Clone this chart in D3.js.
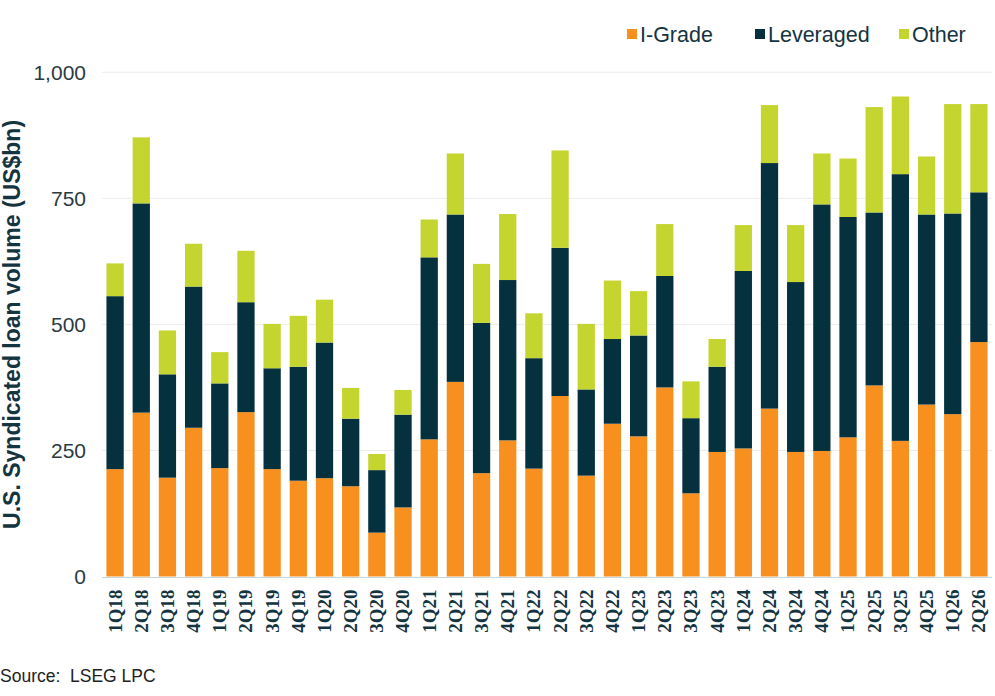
<!DOCTYPE html>
<html>
<head>
  <meta http-equiv="Content-Type" content="text/html; charset=UTF-8">
  <script src="https://d3js.org/d3.v7.min.js"></script>
  <style>
    body { margin:0; background:#fff; }
    svg { display:block; }
  </style>
</head>
<body>
  <svg width="995" height="696"></svg>
  <script>
    // quarters, 1Q18 .. 2Q26
    var quarters = ["1Q18","2Q18","3Q18","4Q18","1Q19","2Q19","3Q19","4Q19","1Q20","2Q20","3Q20","4Q20",
                    "1Q21","2Q21","3Q21","4Q21","1Q22","2Q22","3Q22","4Q22","1Q23","2Q23","3Q23","4Q23",
                    "1Q24","2Q24","3Q24","4Q24","1Q25","2Q25","3Q25","4Q25","1Q26","2Q26"];

    // US$bn
    var iGrade    = [213,325,196,295,215,326,213,190,195,179, 87,137,272,386,205,270,214,358,200,303,
                     278,375,165,247,254,333,247,249,276,379,269,341,322,465];
    var leveraged = [343,415,205,280,168,218,200,226,269,134,124,184,361,332,298,318,219,294,171,168,
                     200,221,149,169,352,487,337,489,437,343,529,377,398,297];
    var other     = [ 65,131, 87, 85, 62,102, 88,101, 85, 61, 32, 49, 75,121,117,131, 89,193,130,116,
                      88,103, 73, 55, 91,115,113,101,116,209,154,115,217,175];

    var seriesNames = ["I-Grade", "Leveraged", "Other"];
    var yTicks = [0, 250, 500, 750, 1000];

    var colors = { "I-Grade": "#f7901e", "Leveraged": "#05313e", "Other": "#c5d52f" };
    var textColor = "#14343f";

    var data = quarters.map(function(q, i) {
      return { q: q, "I-Grade": iGrade[i], "Leveraged": leveraged[i], "Other": other[i] };
    });

    // plot area (window.top is reserved, so no "top" here)
    var plotLeft = 102, plotRight = 992, plotTop = 72.3, plotBottom = 576.5;

    var svg = d3.select("svg");

    var x = d3.scaleBand()
        .domain(quarters)
        .range([plotLeft, plotRight])
        .paddingInner(0.34)
        .paddingOuter(0.17);

    var y = d3.scaleLinear()
        .domain([0, 1000])
        .range([plotBottom, plotTop]);

    // gridlines
    svg.append("g")
        .selectAll("line")
        .data(yTicks.filter(function(t) { return t > 0; }))
        .enter().append("line")
        .attr("x1", plotLeft).attr("x2", plotRight)
        .attr("y1", function(d) { return y(d); })
        .attr("y2", function(d) { return y(d); })
        .attr("stroke", "#ececec")
        .attr("stroke-width", 1);

    var stack = d3.stack().keys(seriesNames);
    var series = stack(data);

    svg.append("g")
        .selectAll("g")
        .data(series)
        .enter().append("g")
        .attr("fill", function(d) { return colors[d.key]; })
        .selectAll("rect")
        .data(function(d) { return d; })
        .enter().append("rect")
        .attr("x", function(d) { return x(d.data.q); })
        .attr("width", x.bandwidth())
        .attr("y", function(d) { return y(d[1]); })
        .attr("height", function(d) { return y(d[0]) - y(d[1]); });

    // baseline
    svg.append("line")
        .attr("x1", plotLeft).attr("x2", plotRight)
        .attr("y1", plotBottom + 1).attr("y2", plotBottom + 1)
        .attr("stroke", "#c9d6dc")
        .attr("stroke-width", 1.2);

    // y axis labels
    var yAxis = d3.axisLeft(y)
        .tickValues(yTicks)
        .tickFormat(d3.format(","))
        .tickSize(0)
        .tickPadding(16);

    var ya = svg.append("g")
        .attr("transform", "translate(" + plotLeft + ",0)")
        .call(yAxis);
    ya.select(".domain").remove();
    ya.selectAll("text")
        .attr("fill", "#2a3b42")
        .style("font-family", "'Liberation Sans', Arial, sans-serif")
        .style("font-size", "21px");

    // x axis labels, rotated
    var xAxis = d3.axisBottom(x).tickSize(0).tickPadding(0);
    var xa = svg.append("g")
        .attr("transform", "translate(0," + (plotBottom + 13) + ")")
        .call(xAxis);
    xa.select(".domain").remove();
    xa.selectAll("text")
        .attr("transform", "rotate(-90)")
        .attr("text-anchor", "end")
        .attr("x", 0)
        .attr("y", 0)
        .attr("dy", "0.34em")
        .attr("fill", textColor)
        .style("font-family", "'Liberation Serif', 'Times New Roman', serif")
        .style("font-weight", "bold")
        .style("font-size", "19px");

    // y axis title
    svg.append("text")
        .attr("transform", "translate(20," + ((plotTop + plotBottom) / 2) + ") rotate(-90)")
        .attr("text-anchor", "middle")
        .attr("fill", textColor)
        .style("font-family", "'Liberation Sans', Arial, sans-serif")
        .style("font-weight", "bold")
        .style("font-size", "23px")
        .text("U.S. Syndicated loan volume (US$bn)");

    // legend
    var legendX = [627, 755, 899];
    var legend = svg.append("g")
        .selectAll("g")
        .data(seriesNames)
        .enter().append("g")
        .attr("transform", function(d, i) { return "translate(" + legendX[i] + ",34)"; });
    legend.append("rect")
        .attr("x", 0).attr("y", -5)
        .attr("width", 10).attr("height", 10)
        .attr("fill", function(d) { return colors[d]; });
    legend.append("text")
        .attr("x", 13)
        .attr("dy", "0.36em")
        .attr("fill", textColor)
        .style("font-family", "'Liberation Sans', Arial, sans-serif")
        .style("font-size", "21.5px")
        .text(function(d) { return d; });

    // source note
    svg.append("text")
        .attr("x", 0).attr("y", 682)
        .attr("fill", "#222")
        .style("font-family", "'Liberation Sans', Arial, sans-serif")
        .style("font-size", "17.5px")
        .style("white-space", "pre")
        .text("Source:  LSEG LPC");
  </script>
</body>
</html>
